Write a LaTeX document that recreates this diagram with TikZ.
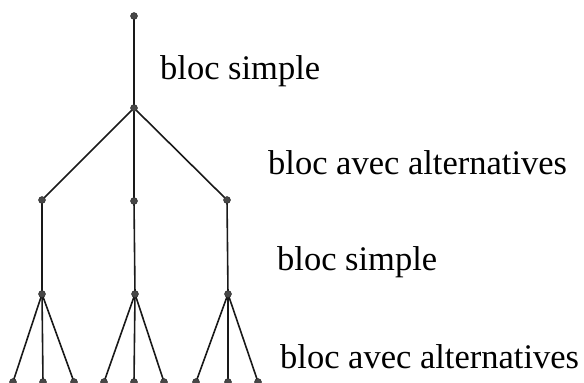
\documentclass[tikz,border=0pt]{standalone}
\usepackage{fontspec}
\setmainfont{Liberation Serif}
\usetikzlibrary{backgrounds}
\begin{document}
\begin{tikzpicture}[x=1pt,y=-1pt,
  pt/.style={circle,fill=black!72,draw=black!85,line width=0.4pt,inner sep=0pt,minimum size=7pt},
  edge/.style={line width=1.6pt,black!90},
  lbl/.style={anchor=base west,inner sep=0pt,font=\fontsize{34.5}{40}\selectfont}]
\useasboundingbox (0,0) rectangle (584,383);
% root and first simple block
\node[pt] (r) at (134,16) {};
\node[pt] (a) at (134,108) {};
% three alternatives
\node[pt] (b1) at (42,200) {};
\node[pt] (b2) at (134,201) {};
\node[pt] (b3) at (227,200) {};
% simple blocks on each branch
\node[pt] (c1) at (42,294) {};
\node[pt] (c2) at (135,294) {};
\node[pt] (c3) at (228,294) {};
% leaves of the last alternative blocks
\node[pt] (d11) at (13,382) {};
\node[pt] (d12) at (43,382) {};
\node[pt] (d13) at (74,382) {};
\node[pt] (d21) at (104,382) {};
\node[pt] (d22) at (134,382) {};
\node[pt] (d23) at (164,382) {};
\node[pt] (d31) at (196,382) {};
\node[pt] (d32) at (228,382) {};
\node[pt] (d33) at (258,382) {};
% tree edges, kept under the dots
\begin{scope}[on background layer]
\draw[edge] (r.center) -- (a.center);
\foreach \i in {1,2,3} {
  \draw[edge] (a.center) -- (b\i.center);
  \draw[edge] (b\i.center) -- (c\i.center);
  \foreach \j in {1,2,3} \draw[edge] (c\i.center) -- (d\i\j.center);
}
\end{scope}
% labels
\node[lbl] (l1) at (160,79) {bloc simple};
\node[lbl] (l2) at (268,174) {bloc avec alternatives};
\node[lbl] (l3) at (277,270) {bloc simple};
\node[lbl] (l4) at (280,368) {bloc avec alternatives};
\end{tikzpicture}
\end{document}
